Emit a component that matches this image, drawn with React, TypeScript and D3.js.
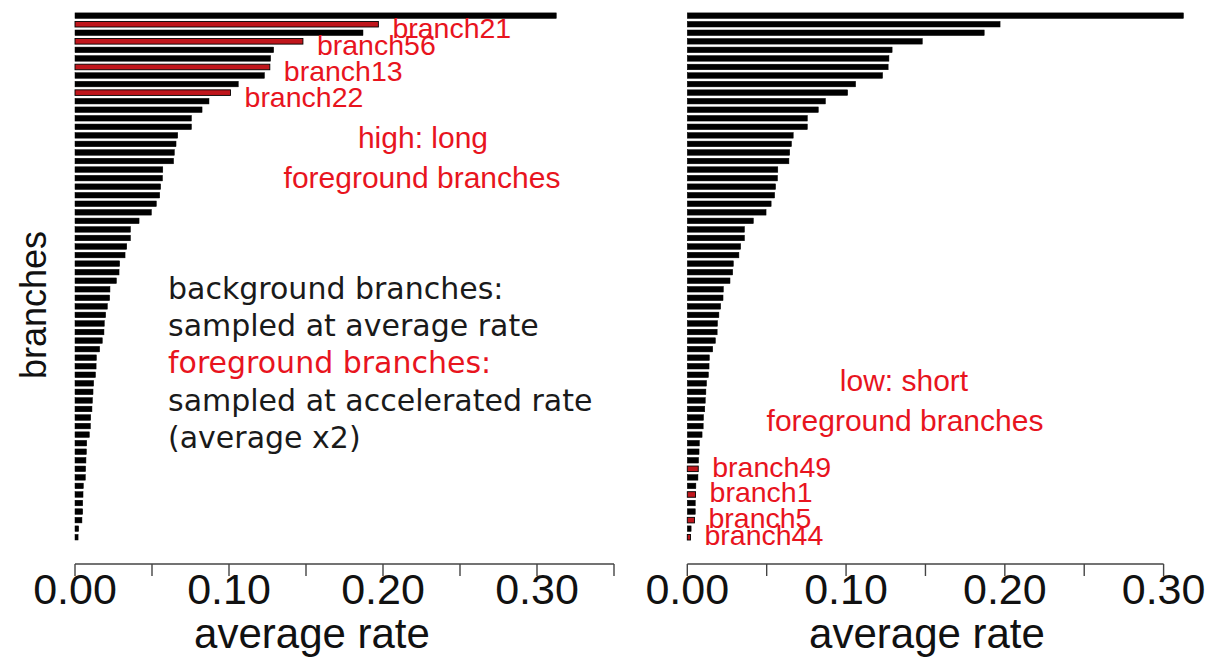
import React from "react";
import * as d3 from "d3";

// Average rates of all branches, sorted from highest to lowest
const branchRates = [
  0.3125, 0.197, 0.187, 0.148, 0.129, 0.127, 0.1265, 0.123, 0.106, 0.101,
  0.087, 0.0825, 0.0756, 0.0756, 0.0667, 0.0656, 0.0645, 0.064, 0.057, 0.0568,
  0.0556, 0.055, 0.0528, 0.0496, 0.0416, 0.036, 0.036, 0.0336, 0.0325, 0.029,
  0.0286, 0.0269, 0.0227, 0.0225, 0.021, 0.0199, 0.019, 0.0188, 0.0177, 0.016,
  0.0139, 0.0137, 0.0133, 0.0121, 0.0117, 0.0113, 0.011, 0.0102, 0.01, 0.0093,
  0.0076, 0.0074, 0.0071, 0.0069, 0.0067, 0.0054, 0.0052, 0.005, 0.005, 0.0045,
  0.0024, 0.002,
];

// Foreground branches (1-based rank in the sorted list)
const highForegroundRanks = [2, 4, 7, 10];
const highForegroundLabels = ["branch21", "branch56", "branch13", "branch22"];
const lowForegroundRanks = [54, 57, 60, 62];
const lowForegroundLabels = ["branch49", "branch1", "branch5", "branch44"];

const leftTicks = [0, 0.05, 0.1, 0.15, 0.2, 0.25, 0.3, 0.35];
const rightTicks = [0, 0.05, 0.1, 0.15, 0.2, 0.25, 0.3];
const tickLabels = ["0.00", "0.10", "0.20", "0.30"];
const tickLabelValues = [0, 0.1, 0.2, 0.3];

const W = 1210;
const H = 657;
const RED = "#e8141e";
const BAR_RED = "#c0161c";
const ARIAL = "'Liberation Sans', Arial, Helvetica, sans-serif";
const DEJAVU = "'DejaVu Sans', sans-serif";

const yBand = d3
  .scaleBand<number>()
  .domain(d3.range(branchRates.length))
  .range([9.9, 543])
  .paddingInner(0.35)
  .paddingOuter(0.35);

type PanelProps = {
  range: [number, number];
  max: number;
  ticks: number[];
  redRanks: number[];
  redLabels: string[];
  labelDy: number;
  titleX: number;
};

function Panel({ range, max, ticks, redRanks, redLabels, labelDy, titleX }: PanelProps) {
  const x = d3.scaleLinear().domain([0, max]).range(range);
  const axisY = 564;
  const bh = yBand.bandwidth();
  return (
    <g>
      {branchRates.map((v, i) => {
        const red = redRanks.includes(i + 1);
        return (
          <rect
            key={i}
            x={x(0)}
            y={yBand(i)!}
            width={x(v) - x(0)}
            height={bh}
            fill={red ? BAR_RED : "#000"}
            stroke="#000"
            strokeWidth={red ? 0.9 : 0.5}
          />
        );
      })}
      {redRanks.map((r, k) => {
        const i = r - 1;
        return (
          <text
            key={k}
            x={x(branchRates[i]) + 14}
            y={yBand(i)! + bh / 2 + labelDy}
            fill={RED}
            fontFamily={ARIAL}
            fontSize={28.5}
          >
            {redLabels[k]}
          </text>
        );
      })}
      <line
        x1={x(ticks[0])}
        x2={x(ticks[ticks.length - 1])}
        y1={axisY}
        y2={axisY}
        stroke="#444"
        strokeWidth={1.4}
      />
      {ticks.map((t, k) => (
        <line key={k} x1={x(t)} x2={x(t)} y1={axisY} y2={axisY + 12} stroke="#444" strokeWidth={1.4} />
      ))}
      {tickLabelValues
        .filter((t) => t <= max + 1e-9)
        .map((t, k) => (
          <text
            key={k}
            x={x(t)}
            y={604}
            textAnchor="middle"
            fontFamily={ARIAL}
            fontSize={43}
            fill="#111"
          >
            {tickLabels[k]}
          </text>
        ))}
      <text x={titleX} y={648} textAnchor="middle" fontFamily={ARIAL} fontSize={42} fill="#111">
        average rate
      </text>
    </g>
  );
}

export default function App() {
  return (
    <svg
      width={W}
      height={H}
      viewBox={`0 0 ${W} ${H}`}
      style={{ position: "absolute", left: 0, top: 0, background: "#fff" }}
    >
      <rect width={W} height={H} fill="#fff" />
      <Panel
        range={[75, 614]}
        max={0.35}
        ticks={leftTicks}
        redRanks={highForegroundRanks}
        redLabels={highForegroundLabels}
        labelDy={14}
        titleX={312}
      />
      <Panel
        range={[687.3, 1163.6]}
        max={0.3}
        ticks={rightTicks}
        redRanks={lowForegroundRanks}
        redLabels={lowForegroundLabels}
        labelDy={8}
        titleX={927}
      />

      <text
        transform="translate(46,305) rotate(-90)"
        textAnchor="middle"
        fontFamily={ARIAL}
        fontSize={36}
        fill="#111"
      >
        branches
      </text>

      <g fontFamily={ARIAL} fontSize={30} fill={RED} textAnchor="middle">
        <text x={423} y={148}>high: long</text>
        <text x={422} y={188}>foreground branches</text>
        <text x={904} y={391}>low: short</text>
        <text x={905} y={431}>foreground branches</text>
      </g>

      <g fontFamily={DEJAVU} fontSize={30} fill="#1a1a1a">
        <text x={168} y={299}>background branches:</text>
        <text x={168} y={336}>sampled at average rate</text>
        <text x={168} y={373} fill={RED}>foreground branches:</text>
        <text x={168} y={411}>sampled at accelerated rate</text>
        <text x={168} y={448}>(average x2)</text>
      </g>
    </svg>
  );
}
